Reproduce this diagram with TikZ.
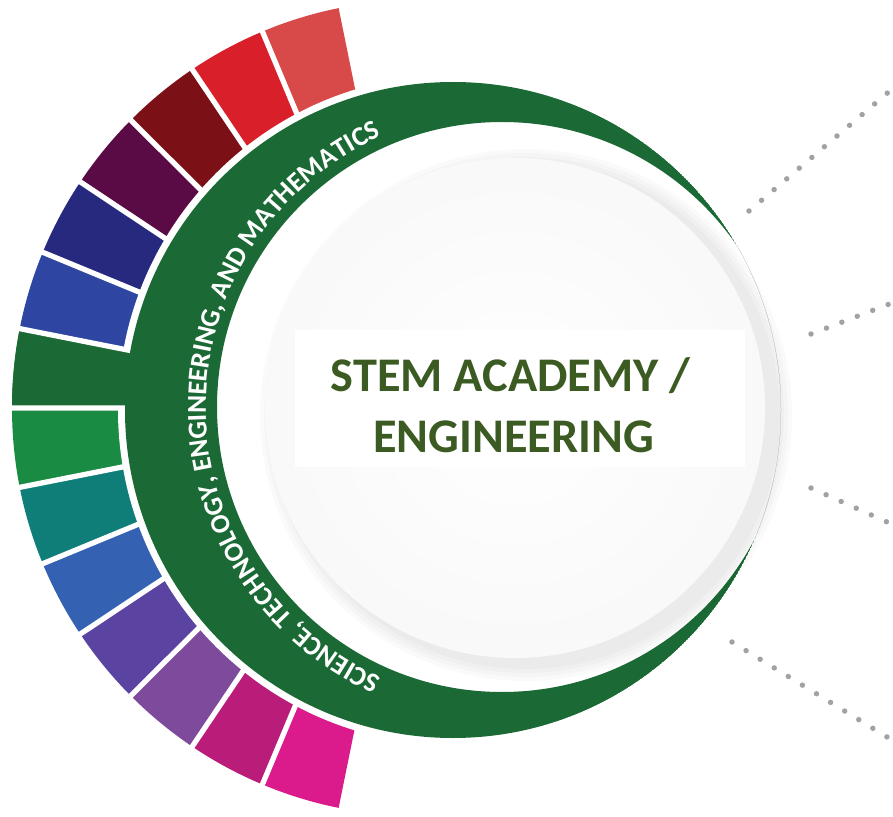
\documentclass[tikz,border=0pt]{standalone}
\usepackage{fontspec}
\setmainfont{Carlito}
\usetikzlibrary{
    calc,
    decorations.text
}
% slot colours, top to bottom
\definecolor{ringgreen}{HTML}{1B6A35}
\definecolor{titlegreen}{HTML}{3B5B22}
\definecolor{dotgray}{HTML}{A2A2A2}
\definecolor{slotLightRed}{HTML}{D84A4A}
\definecolor{slotRed}{HTML}{D91F29}
\definecolor{slotDarkRed}{HTML}{7B1116}
\definecolor{slotPlum}{HTML}{5A0B45}
\definecolor{slotNavy}{HTML}{27297E}
\definecolor{slotBlue}{HTML}{2E46A1}
\definecolor{slotGreen}{HTML}{1A8B43}
\definecolor{slotTeal}{HTML}{0F7E79}
\definecolor{slotSky}{HTML}{3461B1}
\definecolor{slotPurple}{HTML}{5B44A1}
\definecolor{slotLilac}{HTML}{7E4B9C}
\definecolor{slotBerry}{HTML}{BA1C79}
\definecolor{slotMagenta}{HTML}{DB1B8B}
\tikzset{
    % Colors
    ring color/.style={fill=ringgreen},
    %
    % Ring and slots
    separator/.style={white,line width=3pt},
    gap/.style={fill=white},
    %
    % Center disk
    disk shadow/.style={fill=black,opacity=.018},
    disk/.style={inner color=white,outer color=gray!5},
    %
    % Texts
    title text/.style={anchor=base,text=titlegreen,font=\bfseries\fontsize{27.5}{33}\selectfont},
    ring text/.style={decorate,decoration={text along path,text align=center,text color=white,
        text={|\bfseries\fontsize{15.6}{18}\selectfont|#1}}},
    %
    % Dotted connectors
    dots/.style={dotgray,line width=3.1pt,line cap=round,dash pattern=on 0pt off 9.4pt}
}

\begin{document}
\begin{tikzpicture}[x=0.02cm,y=0.02cm]
    \useasboundingbox (0,0) rectangle (893,816);
    \coordinate (P) at (420,408);
    \coordinate (C1) at (453,406);
    \coordinate (C2) at (502,409);
    \coordinate (D) at (515,408);

    % colour slots
    \begin{scope}
        \clip (P) circle (408);
        \foreach \col [count=\k from 0] in {slotLightRed,slotRed,slotDarkRed,slotPlum,slotNavy,slotBlue,ringgreen,
                slotGreen,slotTeal,slotSky,slotPurple,slotLilac,slotBerry,slotMagenta}{
            \pgfmathsetmacro\a{101.5+11.214*\k}
            \pgfmathsetmacro\b{\a+11.214}
            \fill[\col] (P) -- ($(P)+(\a:460)$) arc[start angle=\a,end angle=\b,radius=460] -- cycle;
        }
    \end{scope}
    \fill[gap] (C1) circle (335);
    \fill[ring color] ($(P)+(168.8:408)$) arc[start angle=168.8,end angle=180,radius=408]
        -- ($(P)+(180:250)$) -- ($(P)+(168.8:250)$) -- cycle;
    \foreach \k in {1,...,13}
        \draw[separator] ($(P)+({101.5+11.214*\k}:295)$) -- ($(P)+({101.5+11.214*\k}:425)$);

    % green crescent
    \begin{scope}
        \clip (C1) circle (328);
        \fill[ring color,even odd rule] (C1) circle (328) (C2) circle (285);
    \end{scope}

    % disk
    \foreach \r in {266,262,258,254}
        \fill[disk shadow] ($(D)+(11,-7)$) circle (\r);
    \shade[disk] (D) circle (250);
    \fill[white] (295,349) rectangle (745,486);

    \node[title text] (stem) at (510.5,424) {STEM ACADEMY /};
    \node[title text] (engineering) at (513.5,364) {ENGINEERING};

    \path[ring text={SCIENCE, TECHNOLOGY, ENGINEERING, AND MATHEMATICS}]
        ($(C2)+(258:296)$) arc[start angle=258,end angle=102,radius=296];

    % dotted connectors
    \coordinate (dots 1 a) at (749,605);
    \coordinate (dots 1 b) at (905,738);
    \coordinate (dots 2 a) at (811,482);
    \coordinate (dots 2 b) at (905,518);
    \coordinate (dots 3 a) at (811,328);
    \coordinate (dots 3 b) at (905,286);
    \coordinate (dots 4 a) at (732,174);
    \coordinate (dots 4 b) at (905,68);
    \begin{scope}
        \clip (0,0) rectangle (893,816);
        \foreach \n in {1,...,4}
            \draw[dots] (dots \n\space a) -- (dots \n\space b);
    \end{scope}
\end{tikzpicture}
\end{document}
